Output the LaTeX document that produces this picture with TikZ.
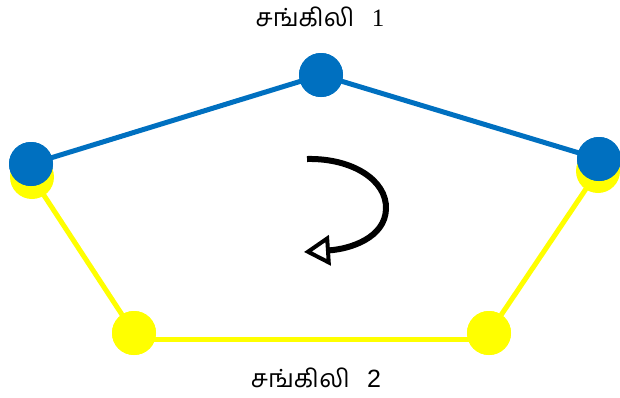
\documentclass[tikz,border=0pt]{standalone}
\usepackage{fontspec}
\setmainfont{Liberation Serif}
\newfontfamily\tamilfont[Script=Tamil]{Hind Madurai}
\newfontfamily\digitsans{Liberation Sans}
\usetikzlibrary{arrows.meta}
\definecolor{chainblue}{HTML}{0070C0}
\definecolor{chainyellow}{HTML}{FFFF00}
\begin{document}
\begin{tikzpicture}[x=1pt,y=-1pt,
  bead/.style={circle,inner sep=0pt,minimum size=44pt},
  bluebead/.style={bead,fill=chainblue},
  yellowbead/.style={bead,fill=chainyellow},
  blueline/.style={draw=chainblue,line width=5pt},
  yellowline/.style={draw=chainyellow,line width=5pt},
  label/.style={inner sep=0pt,font=\fontsize{25}{28}\selectfont}]
\useasboundingbox (0,0) rectangle (620,397);

% chain 2 (yellow)
\node[yellowbead] (y1) at (32,177) {};
\node[yellowbead] (y2) at (134,333) {};
\node[yellowbead] (y3) at (489,333) {};
\node[yellowbead] (y4) at (598,171) {};
\draw[yellowline] (y1.center) -- (y2.center);
\draw[yellowline] ([yshift=-6pt]y2.center) -- ([yshift=-6pt]y3.center);
\draw[yellowline] (y3.center) -- (y4.center);
\node[yellowbead] at (y2) {};
\node[yellowbead] at (y3) {};

% chain 1 (blue)
\node[bluebead] (b1) at (31,164) {};
\node[bluebead] (b2) at (321,75) {};
\node[bluebead] (b3) at (599,159) {};
\draw[blueline] (b1.center) -- (b2.center) -- (b3.center);
\node[bluebead] at (b1) {};
\node[bluebead] at (b2) {};
\node[bluebead] at (b3) {};

% rotation arrow
\coordinate (r0) at (307,159);
\coordinate (r1) at (386,209);
\coordinate (r2) at (304,252);
\draw[line width=6pt,-{Triangle[open,length=26pt,width=30pt,line width=4pt]}]
  (r0) .. controls (352,158) and (387,180) .. (r1)
       .. controls (385,238) and (350,249) .. (r2);

% labels
\node[label] (t1) at (320,17) {{\tamilfont சங்கிலி}\hspace{0.7em}1};
\node[label] (t2) at (316,378) {{\tamilfont சங்கிலி}\hspace{0.7em}{\digitsans 2}};
\end{tikzpicture}
\end{document}
